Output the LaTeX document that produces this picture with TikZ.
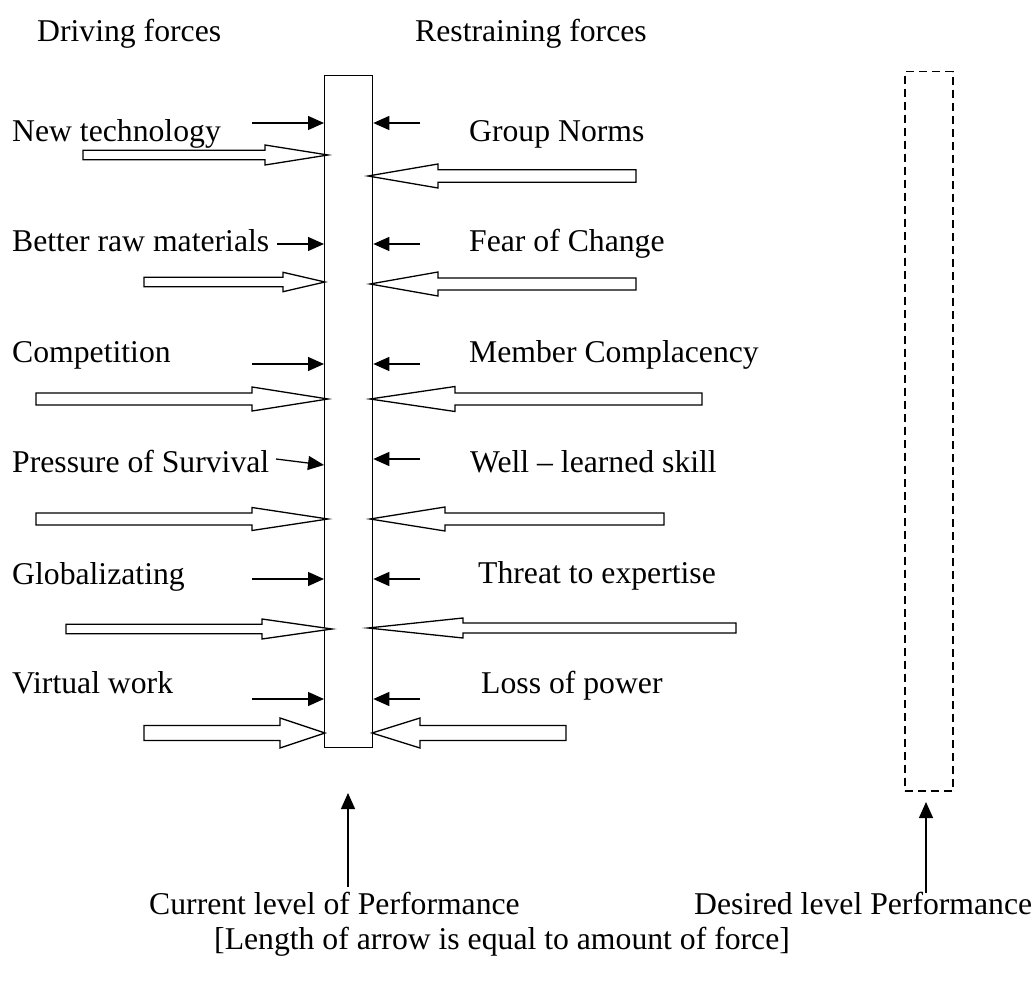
\documentclass[tikz,border=0pt]{standalone}
\usepackage{fontspec}
\setmainfont{Liberation Serif}
\usetikzlibrary{arrows.meta}
\newcommand{\forcearrow}[6]{% tail x, head base x, tip x, y, shaft half, head half
  \draw[hollow] (#1,#4-#5) -- (#2,#4-#5) -- (#2,#4-#6) -- (#3,#4) -- (#2,#4+#6) -- (#2,#4+#5) -- (#1,#4+#5) -- cycle;}
\begin{document}
\begin{tikzpicture}[x=1pt,y=-1pt,
  lbl/.style={inner sep=0pt, anchor=base west, font=\fontsize{31.7}{38}\selectfont},
  hollow/.style={draw=black, fill=white, line width=1.3pt, line join=miter},
  small/.style={line width=1.3pt, -{Triangle[length=16pt,width=14pt]}},
  barbox/.style={draw, line width=1.3pt, inner sep=0pt, minimum width=48pt, anchor=north west}]
\useasboundingbox (0,0) rectangle (1036,981);

% bars
\node[barbox, minimum height=672pt] (bar) at (324,75) {};
\node[barbox, minimum height=719pt, dash pattern=on 8pt off 5pt, line width=1.5pt] (dbar) at (904,71) {};

% headings
\node[lbl] (drv) at (37,42) {Driving forces};
\node[lbl] (rst) at (415,42) {Restraining forces};

% left labels
\node[lbl] (l1) at (12,142) {New technology};
\node[lbl] (l2) at (12,252) {Better raw materials};
\node[lbl] (l3) at (12,363) {Competition};
\node[lbl] (l4) at (12,472) {Pressure of Survival};
\node[lbl] (l5) at (12,584) {Globalizating};
\node[lbl] (l6) at (12,693) {Virtual work};

% right labels
\node[lbl] (r1) at (469,142) {Group Norms};
\node[lbl] (r2) at (469,252) {Fear of Change};
\node[lbl] (r3) at (469,363) {Member Complacency};
\node[lbl] (r4) at (470,472) {Well -- learned skill};
\node[lbl] (r5) at (478,583) {Threat to expertise};
\node[lbl] (r6) at (481,693) {Loss of power};

% bottom labels
\node[lbl] (cur) at (149,914) {Current level of Performance};
\node[lbl] (des) at (694,914) {Desired level Performance};
\node[lbl] (note) at (214,949) {[Length of arrow is equal to amount of force]};

% small arrows, left
\coordinate (sl1) at (252,123);
\coordinate (sl2) at (277,244);
\coordinate (sl3) at (252,364);
\coordinate (sl4) at (276,459);
\coordinate (sl5) at (252,579);
\coordinate (sl6) at (252,699);
\draw[small] (sl1) -- (bar.west |- 0,123);
\draw[small] (sl2) -- (bar.west |- 0,244);
\draw[small] (sl3) -- (bar.west |- 0,364);
\draw[small] (sl4) -- (bar.west |- 0,465);
\draw[small] (sl5) -- (bar.west |- 0,579);
\draw[small] (sl6) -- (bar.west |- 0,699);

% small arrows, right
\coordinate (sr1) at (420,123);
\coordinate (sr2) at (420,244);
\coordinate (sr3) at (420,364);
\coordinate (sr4) at (420,459);
\coordinate (sr5) at (420,579);
\coordinate (sr6) at (420,699);
\draw[small] (sr1) -- (bar.east |- 0,123);
\draw[small] (sr2) -- (bar.east |- 0,244);
\draw[small] (sr3) -- (bar.east |- 0,364);
\draw[small] (sr4) -- (bar.east |- 0,459);
\draw[small] (sr5) -- (bar.east |- 0,579);
\draw[small] (sr6) -- (bar.east |- 0,699);

% hollow force arrows, driving
\forcearrow{83}{265}{328}{155}{4.7}{10}
\forcearrow{144}{283}{325}{282}{4.7}{9.7}
\forcearrow{36}{252}{328}{399}{6}{12}
\forcearrow{36}{252}{328}{519}{6}{11.5}
\forcearrow{66}{262}{332}{629}{4.7}{10}
\forcearrow{144}{280}{325}{733}{7.5}{15}

% hollow force arrows, restraining
\forcearrow{636}{438}{368}{176}{6.3}{12}
\forcearrow{636}{438}{370}{284}{6}{12}
\forcearrow{702}{455}{370}{399}{6}{12.5}
\forcearrow{664}{445}{370}{519}{6}{12}
\forcearrow{736}{463}{368}{628}{5}{10}
\forcearrow{566}{420}{372}{733}{7.5}{15}

% level arrows
\coordinate (cbase) at (348,887);
\coordinate (dbase) at (926,893);
\draw[small] (cbase) -- (348,793);
\draw[small] (dbase) -- (926,802);
\end{tikzpicture}
\end{document}
